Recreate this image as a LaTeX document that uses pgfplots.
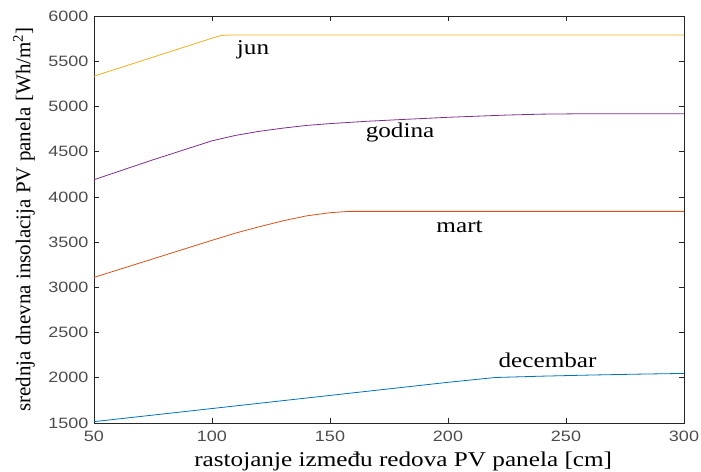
\documentclass[border=0pt]{standalone}
\usepackage{pgfplots}
\pgfplotsset{compat=1.18}
\usepackage{fontspec}
\setmainfont{Liberation Serif}[FakeStretch=1.2]
\newfontfamily\ylabfont{Liberation Serif}
\newfontfamily\tickfont{Liberation Sans}[FakeStretch=1.2]
\definecolor{mblue}{rgb}{0,0.447,0.741}
\definecolor{mred}{rgb}{0.85,0.325,0.098}
\definecolor{myellow}{rgb}{0.929,0.694,0.125}
\definecolor{mpurple}{rgb}{0.494,0.184,0.556}
\definecolor{axgray}{gray}{0.15}
\begin{document}
\begin{tikzpicture}
\begin{axis}[
  at={(0,0)}, anchor=south west,
  scale only axis, width=590bp, height=407bp,
  xmin=50, xmax=300, ymin=1500, ymax=6000,
  xtick={50,100,...,300}, ytick={1500,2000,...,6000},
  tick align=inside, major tick length=5bp,
  axis line style={axgray, line width=0.6bp},
  every tick/.style={axgray, line width=0.6bp},
  /pgf/number format/assume math mode=true,
  /pgf/number format/1000 sep={},
  tick label style={font=\tickfont\fontsize{15bp}{18bp}\selectfont, text=black!70},
  xticklabel style={yshift=-5bp},
  yticklabel style={xshift=-2bp},
  xlabel={rastojanje između redova PV panela [cm]},
  ylabel={srednja dnevna insolacija PV panela [Wh/m\textsuperscript{2}]},
  xlabel style={at={(axis description cs:0.524,-0.108)}, anchor=base, font=\fontsize{21bp}{25bp}\selectfont},
  ylabel style={at={(axis description cs:-0.1186,0.5)}, rotate=0, anchor=center, font=\ylabfont\fontsize{21bp}{25bp}\selectfont},
  every axis plot/.append style={line width=0.8bp, no markers},
]
\addplot[myellow] coordinates {(50,5335)(100,5755)(104,5785)(108,5790)(300,5790)};
\addplot[mpurple] coordinates {(50,4190)(75,4410)(100,4620)(110,4680)(120,4725)(130,4760)(140,4790)(150,4810)(165,4835)(180,4855)(200,4880)(225,4905)(240,4915)(260,4920)(300,4920)};
\addplot[mred] coordinates {(50,3110)(75,3315)(100,3520)(110,3600)(120,3670)(130,3735)(140,3790)(150,3825)(158,3840)(300,3840)};
\addplot[mblue] coordinates {(50,1515)(100,1660)(150,1805)(200,1950)(220,2003)(240,2018)(260,2030)(280,2040)(300,2048)};
\node[anchor=base, font=\fontsize{21bp}{25bp}\selectfont] at (axis cs:117.4,5569) {jun};
\node[anchor=base, font=\fontsize{21bp}{25bp}\selectfont] at (axis cs:179.7,4662) {godina};
\node[anchor=base, font=\fontsize{21bp}{25bp}\selectfont] at (axis cs:204.9,3611) {mart};
\node[anchor=base, font=\fontsize{21bp}{25bp}\selectfont] at (axis cs:242.2,2110) {decembar};
\end{axis}
\pgfresetboundingbox
\path (-94bp,-49bp) rectangle (607bp,423bp);
\end{tikzpicture}
\end{document}
